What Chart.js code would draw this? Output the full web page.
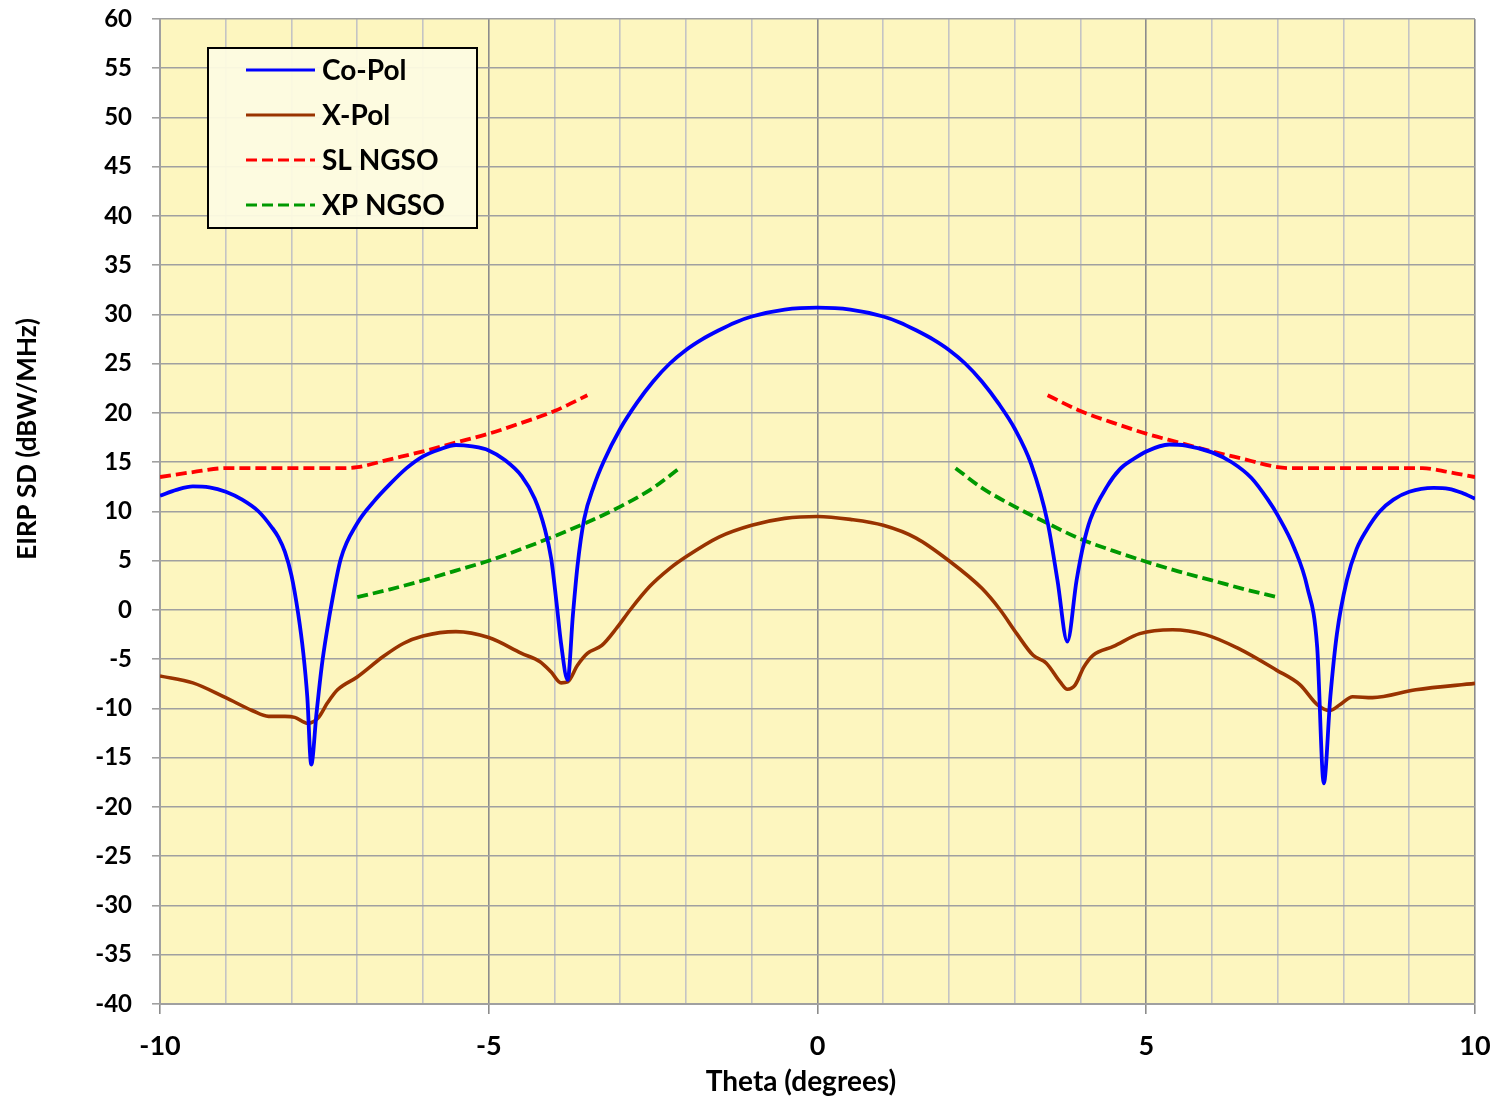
<!DOCTYPE html>
<html>
<head>
<meta charset="utf-8">
<title>EIRP SD vs Theta</title>
<script src="https://cdn.jsdelivr.net/npm/chart.js@4.4.1/dist/chart.umd.min.js"></script>
<style>
    html, body { margin: 0; padding: 0; background: #ffffff; }
    #wrap { width: 1498px; height: 1101px; position: relative; }
</style>
</head>
<body>
<div id="wrap"><canvas id="patternChart"></canvas></div>
<script>
// values
const copolTheta = [-10, -9.75, -9.5, -9.25, -9, -8.75, -8.5, -8.3, -8.2, -8.1, -8, -7.9, -7.82, -7.76, -7.7, -7.62, -7.54, -7.46, -7.38, -7.25,
    -7, -6.75, -6.5, -6.25, -6, -5.75, -5.5, -5.25, -5, -4.75, -4.5, -4.3, -4.15, -4.05, -3.97, -3.9, -3.8, -3.72, -3.65, -3.55, -3.4,
    -3.25, -3, -2.75, -2.5, -2.25, -2, -1.75, -1.5, -1.25, -1, -0.5, 0, 0.5, 1, 1.25, 1.5, 1.75, 2, 2.25, 2.5, 2.75, 3, 3.25, 3.5, 3.65, 3.8, 3.94,
    4.05, 4.15, 4.4, 4.6, 4.8, 5, 5.35, 5.6, 6, 6.3, 6.6, 6.85, 7, 7.25, 7.45, 7.6, 7.7, 7.8, 7.9, 8.05, 8.2, 8.35, 8.55, 8.76,
    9, 9.37, 9.6, 9.8, 10];
const copolVals = [11.6, 12.2, 12.55, 12.45, 12.0, 11.2, 10.0, 8.4, 7.4, 5.9, 3.5, -0.3, -4.4, -8.8, -15.7, -10.5, -5.7, -2.1, 1.0, 5.2,
    8.8, 11.0, 12.8, 14.4, 15.6, 16.3, 16.75, 16.6, 16.2, 15.2, 13.6, 11.3, 8.3, 5.2, 0.8, -3.4, -7.1, -0.5, 4.5, 9.2, 12.6,
    15.1, 18.4, 21.0, 23.2, 25.0, 26.4, 27.5, 28.4, 29.2, 29.8, 30.5, 30.7, 30.5, 29.8, 29.2, 28.4, 27.5, 26.4, 25.0, 23.2, 21.0, 18.4, 14.8, 8.9, 3.0, -3.2, 3.0,
    6.8, 9.2, 12.5, 14.3, 15.3, 16.1, 16.8, 16.7, 16.0, 15.0, 13.4, 11.2, 9.6, 6.3, 2.3, -3.8, -17.6, -8.8, -2.4, 3.0, 6.2, 8.1, 10.0, 11.2,
    12.0, 12.4, 12.3, 11.9, 11.3];

const xpolTheta = [-10, -9.5, -9, -8.6, -8.35, -8.1, -7.95, -7.75, -7.6, -7.45, -7.3, -7, -6.6, -6.3, -6, -5.5, -5, -4.5, -4.22, -4.05,
    -3.9, -3.8, -3.65, -3.5, -3.28, -3.05, -2.85, -2.55, -2.25, -2, -1.5, -1, -0.5, 0, 0.5, 1, 1.5, 2, 2.5, 2.78, 3.03, 3.28, 3.48,
    3.69, 3.8, 3.92, 4.05, 4.19, 4.5, 4.9, 5.4, 5.9, 6.4, 6.98, 7.34, 7.6, 7.79, 7.95, 8.14, 8.44, 9.1, 10];
const xpolVals = [-6.7, -7.4, -8.9, -10.2, -10.8, -10.8, -10.9, -11.5, -11.0, -9.4, -8.1, -6.8, -4.7, -3.4, -2.65, -2.2, -2.8, -4.4, -5.25, -6.3,
    -7.4, -7.3, -5.6, -4.4, -3.6, -1.8, 0.0, 2.4, 4.2, 5.4, 7.4, 8.6, 9.3, 9.5, 9.2, 8.6, 7.3, 5.0, 2.2, 0.0, -2.4, -4.6, -5.4,
    -7.3, -8.05, -7.6, -5.8, -4.6, -3.7, -2.4, -2.0, -2.5, -3.9, -6.1, -7.6, -9.6, -10.2, -9.6, -8.8, -8.9, -8.1, -7.45];

// the mask has two branches, the null in the middle breaks the line
const slTheta = [-10, -9.5, -9, -8, -7.25, -7, -6.5, -6, -5.5, -5, -4.5, -4, -3.5, 0,
    3.5, 4, 4.5, 5, 5.5, 6, 6.5, 7, 7.25, 8, 9.2, 9.6, 10];
const slVals = [13.5, 14.0, 14.4, 14.4, 14.4, 14.5, 15.3, 16.1, 17.0, 17.9, 19.0, 20.2, 21.8, null,
    21.8, 20.2, 19.0, 17.9, 17.0, 16.1, 15.3, 14.5, 14.4, 14.4, 14.4, 14.0, 13.5];

const xpTheta = [-7, -6.5, -6, -5.5, -5, -4.5, -4, -3.5, -3, -2.5, -2.1, 0,
    2.1, 2.5, 3, 3.5, 4, 4.5, 5, 5.5, 6, 6.5, 7];
const xpVals = [1.3, 2.1, 3.0, 4.0, 5.0, 6.2, 7.5, 8.9, 10.5, 12.4, 14.4, null,
    14.4, 12.4, 10.5, 8.8, 7.2, 6.0, 4.9, 3.9, 3.0, 2.1, 1.3];

const seriesNames = ['Co-Pol', 'X-Pol', 'SL NGSO', 'XP NGSO'];
const yTickMin = -40;
const yTickMax = 60;
const yTickStep = 5;
const xTickMin = -10;
const xTickMax = 10;

const FONT = 'Lato, "Open Sans", "Noto Sans", sans-serif';

function toPoints(xs, ys) {
    return xs.map((x, i) => ({ x: x, y: ys[i] }));
}

// yellow plot background, under the grid
const plotBackground = {
    id: 'plotBackground',
    beforeDraw(chart) {
        const a = chart.chartArea;
        const ctx = chart.ctx;
        ctx.save();
        ctx.fillStyle = '#fdf6bf';
        ctx.fillRect(a.left, a.top, a.right - a.left, a.bottom - a.top);
        ctx.restore();
    }
};

// boxed legend sitting inside the plot, plus the two axis titles
const boxLegend = {
    id: 'boxLegend',
    afterDraw(chart) {
        const ctx = chart.ctx;
        ctx.save();
        ctx.fillStyle = 'rgba(253, 251, 226, 0.95)';
        ctx.fillRect(208, 48, 269, 180);
        ctx.strokeStyle = '#000000';
        ctx.lineWidth = 2;
        ctx.strokeRect(208, 48, 269, 180);

        ctx.font = 'bold 28px ' + FONT;
        ctx.textBaseline = 'middle';
        ctx.textAlign = 'left';
        chart.data.datasets.forEach((ds, i) => {
            const y = 70 + i * 45;
            ctx.beginPath();
            ctx.strokeStyle = ds.borderColor;
            ctx.lineWidth = 3;
            ctx.setLineDash(ds.borderDash || []);
            ctx.moveTo(246, y);
            ctx.lineTo(315, y);
            ctx.stroke();
            ctx.setLineDash([]);
            ctx.fillStyle = '#000000';
            ctx.fillText(ds.label, 322, y + 1);
        });

        ctx.font = 'bold 28px ' + FONT;
        ctx.textAlign = 'center';
        ctx.fillText('Theta (degrees)', 801, 1082);
        ctx.font = 'bold 26px ' + FONT;
        ctx.translate(28, 439);
        ctx.rotate(-Math.PI / 2);
        ctx.fillText('EIRP SD (dBW/MHz)', 0, 0);
        ctx.restore();
    }
};

const patternChart = new Chart(document.getElementById('patternChart'), {
    type: 'scatter',
    data: {
        datasets: [{
            label: seriesNames[0],
            data: toPoints(copolTheta, copolVals),
            borderColor: '#0000ff',
            borderWidth: 3.8
        }, {
            label: seriesNames[1],
            data: toPoints(xpolTheta, xpolVals),
            borderColor: '#993300',
            borderWidth: 3.6
        }, {
            label: seriesNames[2],
            data: toPoints(slTheta, slVals),
            borderColor: '#ff0000',
            borderWidth: 3.8,
            borderDash: [11, 5]
        }, {
            label: seriesNames[3],
            data: toPoints(xpTheta, xpVals),
            borderColor: '#009900',
            borderWidth: 3.8,
            borderDash: [11, 5]
        }]
    },
    options: {
        responsive: true,
        maintainAspectRatio: false,
        animation: false,
        showLine: true,
        spanGaps: false,
        layout: { padding: { top: 19, right: 23, left: 0, bottom: 0 } },
        elements: {
            point: { radius: 0, hoverRadius: 0 },
            line: { cubicInterpolationMode: 'monotone', fill: false }
        },
        scales: {
            x: {
                type: 'linear',
                min: xTickMin,
                max: xTickMax,
                afterFit: (scale) => {
                    scale.height = 97;
                    scale.paddingLeft = 0;
                    scale.paddingRight = 0;
                },
                ticks: {
                    stepSize: 1,
                    autoSkip: false,
                    maxRotation: 0,
                    padding: 16,
                    color: '#000000',
                    font: { family: FONT, size: 27, weight: 'bold' },
                    callback: (v) => (v % 5 === 0 ? v : '')
                },
                grid: {
                    color: (c) => (c.tick && c.tick.value % 5 === 0 ? '#8c8c8c' : '#c4c4c4'),
                    tickColor: (c) => (c.tick && c.tick.value % 5 === 0 ? '#8c8c8c' : 'rgba(0,0,0,0)'),
                    lineWidth: 1.6,
                    tickLength: 10
                },
                border: { color: '#a0a0a0', width: 2 }
            },
            y: {
                min: yTickMin,
                max: yTickMax,
                afterFit: (scale) => {
                    scale.width = 160;
                    scale.paddingTop = 0;
                    scale.paddingBottom = 0;
                },
                ticks: {
                    stepSize: yTickStep,
                    padding: 20,
                    color: '#000000',
                    font: { family: FONT, size: 24, weight: 'bold' }
                },
                grid: {
                    color: '#a0a0a0',
                    lineWidth: 1.6,
                    tickLength: 8
                },
                border: { color: '#a0a0a0', width: 2 }
            }
        },
        plugins: {
            legend: { display: false },
            tooltip: { enabled: false }
        }
    },
    plugins: [plotBackground, boxLegend]
});
</script>
</body>
</html>
